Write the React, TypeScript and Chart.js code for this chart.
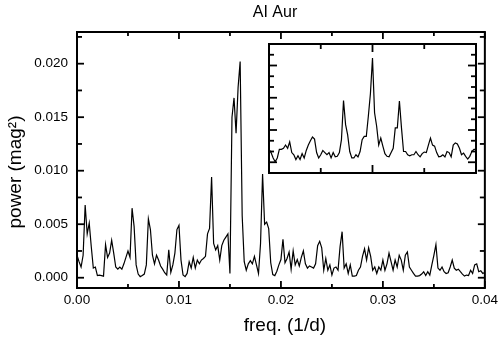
import React, { useEffect, useRef } from "react";
import Chart from "chart.js/auto";

const TITLE = "AI Aur";
const X_LABEL = "freq. (1/d)";
const Y_LABEL = "power (mag²)";

// Main periodogram: frequency grid step (1/d) and power in units of 1e-4 mag^2
const FREQ_STEP = 0.0002;
const POWER_E4 = [
  21, 15, 10, 21, 68, 41, 51, 29, 9, 10,
  2, 2.5, 2, 1.5, 31, 19, 23, 35, 23, 10,
  8, 10, 8, 13, 19, 25, 19, 65, 48, 12,
  3.4, 1, 2, 3.4, 12, 55, 45, 21, 13, 21,
  16.5, 11, 8, 4.7, 2.5, 26, 5, 12, 23, 45,
  49, 16.5, 2.5, 1, 4, 15, 9, 19, 9, 16.5,
  13, 16.5, 18, 20, 41, 46, 94, 32, 26, 30,
  16.5, 30, 35, 38, 41, 4, 150, 168, 135, 178,
  202, 58, 15, 7, 13, 16, 13, 20, 12, 4,
  32, 97, 50, 52, 46, 14, 3, 2, 6, 12,
  17, 36, 14, 18, 24, 8, 25, 12, 17, 11,
  19, 25, 13, 9, 11, 10, 9, 13, 30, 34,
  28, 7, 18, 7, 12, 2.5, 9, 10, 7, 29,
  43, 9, 13, 4, 12, 1.5, 1.5, 2, 7, 10,
  20, 27, 16.5, 28, 20, 7, 10, 4, 10, 7,
  16.5, 7, 13, 23, 15, 7, 16.5, 10, 21, 16.5,
  7, 21, 24, 10, 7, 4, 1.5, 1.5, 2, 3.4,
  5.6, 2, 5.6, 2.5, 12, 21, 31, 9, 7, 10,
  5.6, 4, 4.7, 10, 16.5, 9, 7, 8, 5.6, 3.4,
  1.5, 2.5, 2, 7, 4, 12, 13, 5.6, 6.5, 4,
  5,
];

const X_TICKS = [0, 0.01, 0.02, 0.03, 0.04];
const Y_TICKS = [0, 0.005, 0.01, 0.015, 0.02];

// Inset (spectral window): offset grid step and relative power
const WIN_STEP = 0.04;
const WIN_POWER = [
  2.2, 1.9, 1.4, 1.05, 1.4, 2.2, 2.2, 2.3, 2.6, 2.3,
  2.9, 1.9, 1.7, 1.25, 1.6, 1.25, 1.8, 1.4, 2.1, 2.6,
  3.0, 3.35, 3.15, 1.9, 1.4, 1.7, 2.1, 1.9, 1.7, 1.9,
  1.4, 1.9, 1.5, 1.55, 1.9, 3.1, 6.75, 4.5, 3.55, 2.0,
  1.4, 1.4, 1.7, 1.5, 2.0, 3.1, 3.4, 3.4, 5.3, 7.4,
  10.7, 5.6, 4.35, 2.6, 3.25, 2.5, 1.8, 1.55, 1.5, 1.9,
  2.3, 4.2, 4.2, 6.7, 4.2, 2.0, 2.0, 1.7, 1.6, 1.7,
  1.7, 2.0, 1.7, 1.5, 1.8, 1.95, 1.9, 2.6, 3.25, 2.6,
  2.5, 1.9, 1.5, 1.55, 1.7, 1.5, 2.0, 1.9, 1.5, 2.6,
  2.8, 2.7, 2.3, 1.7, 1.85, 1.55, 1.3, 1.55, 2.0, 2.2,
  2.2,
];

const FONT = '"Liberation Sans", Arial, Helvetica, sans-serif';

const mainPoints = POWER_E4.map((p, i) => ({ x: +(i * FREQ_STEP).toFixed(5), y: p * 1e-4 }));
const winPoints = WIN_POWER.map((p, k) => ({ x: +(-2 + k * WIN_STEP).toFixed(3), y: p }));

function seg(ctx: CanvasRenderingContext2D, x1: number, y1: number, x2: number, y2: number) {
  ctx.beginPath();
  ctx.moveTo(x1, y1);
  ctx.lineTo(x2, y2);
  ctx.stroke();
}

const mainDecor = {
  id: "mainDecor",
  afterDraw(chart: any) {
    const { ctx, chartArea: a, scales } = chart;
    const x = scales.x;
    const y = scales.y;
    ctx.save();
    ctx.strokeStyle = "#000";
    ctx.lineWidth = 1.8;
    for (let i = 0; i <= 8; i++) {
      const px = x.getPixelForValue(i * 0.005);
      const len = i % 2 === 0 ? 7 : 4;
      seg(ctx, px, a.bottom, px, a.bottom - len);
      seg(ctx, px, a.top, px, a.top + len);
    }
    for (let i = 0; i <= 9; i++) {
      const py = y.getPixelForValue(i * 0.0025);
      const len = i % 2 === 0 ? 7 : 5;
      seg(ctx, a.left, py, a.left + len, py);
      seg(ctx, a.right, py, a.right - len, py);
    }
    ctx.lineWidth = 2;
    ctx.strokeRect(a.left, a.top, a.right - a.left, a.bottom - a.top);

    ctx.fillStyle = "#000";
    ctx.textAlign = "center";
    ctx.textBaseline = "alphabetic";
    ctx.font = `16px ${FONT}`;
    ctx.fillText(TITLE, 275, 17);
    ctx.font = `19px ${FONT}`;
    ctx.fillText(X_LABEL, (a.left + a.right) / 2 + 4, 331);
    ctx.translate(21, 172);
    ctx.rotate(-Math.PI / 2);
    ctx.fillText(Y_LABEL, 0, 0);
    ctx.restore();
  },
};

const insetDecor = {
  id: "insetDecor",
  beforeDatasetsDraw(chart: any) {
    const { ctx, chartArea: a } = chart;
    ctx.save();
    ctx.fillStyle = "#fff";
    ctx.fillRect(a.left, a.top, a.right - a.left, a.bottom - a.top);
    ctx.restore();
  },
  afterDraw(chart: any) {
    const { ctx, chartArea: a, scales } = chart;
    const x = scales.x;
    const y = scales.y;
    ctx.save();
    ctx.strokeStyle = "#000";
    ctx.lineWidth = 1.8;
    [-1, 0, 1].forEach((v) => {
      const px = x.getPixelForValue(v);
      const len = v === 0 ? 8 : 5;
      seg(ctx, px, a.bottom, px, a.bottom - len);
      seg(ctx, px, a.top, px, a.top + len);
    });
    for (let k = 1; k <= 11; k++) {
      const py = y.getPixelForValue(k);
      const len = k % 3 === 1 ? 8 : 5;
      seg(ctx, a.left, py, a.left + len, py);
      seg(ctx, a.right, py, a.right - len, py);
    }
    ctx.lineWidth = 2;
    ctx.strokeRect(a.left, a.top, a.right - a.left, a.bottom - a.top);
    ctx.restore();
  },
};

export default function App() {
  const mainRef = useRef<HTMLCanvasElement>(null);
  const insetRef = useRef<HTMLCanvasElement>(null);

  useEffect(() => {
    document.body.style.margin = "0";
    const main = new Chart(mainRef.current as HTMLCanvasElement, {
      type: "line",
      data: {
        datasets: [
          {
            data: mainPoints,
            borderColor: "#000",
            borderWidth: 1.2,
            pointRadius: 0,
            tension: 0,
            fill: false,
          },
        ],
      },
      options: {
        animation: false,
        responsive: false,
        devicePixelRatio: 1,
        layout: { padding: { top: 32, right: 12, left: 0, bottom: 0 } },
        plugins: { legend: { display: false }, tooltip: { enabled: false }, title: { display: false } },
        scales: {
          x: {
            type: "linear",
            min: 0,
            max: 0.04,
            afterFit: (s: any) => {
              s.height = 49;
            },
            afterBuildTicks: (s: any) => {
              s.ticks = X_TICKS.map((v) => ({ value: v }));
            },
            grid: { display: false, drawTicks: false },
            border: { display: false },
            ticks: {
              autoSkip: false,
              maxRotation: 0,
              padding: 4,
              color: "#000",
              font: { family: FONT, size: 13.5 },
              callback: (v: any) => Number(v).toFixed(2),
            },
          },
          y: {
            type: "linear",
            min: -0.00096,
            max: 0.02296,
            afterFit: (s: any) => {
              s.width = 77;
            },
            afterBuildTicks: (s: any) => {
              s.ticks = Y_TICKS.map((v) => ({ value: v }));
            },
            grid: { display: false, drawTicks: false },
            border: { display: false },
            ticks: {
              padding: 9,
              color: "#000",
              font: { family: FONT, size: 13.5 },
              callback: (v: any) => Number(v).toFixed(3),
            },
          },
        },
      },
      plugins: [mainDecor],
    } as any);

    const inset = new Chart(insetRef.current as HTMLCanvasElement, {
      type: "line",
      data: {
        datasets: [
          {
            data: winPoints,
            borderColor: "#000",
            borderWidth: 1.2,
            pointRadius: 0,
            tension: 0,
            fill: false,
          },
        ],
      },
      options: {
        animation: false,
        responsive: false,
        devicePixelRatio: 1,
        layout: { padding: { top: 4, right: 4, left: 4, bottom: 4 } },
        plugins: { legend: { display: false }, tooltip: { enabled: false } },
        scales: {
          x: { type: "linear", min: -2, max: 2, display: false },
          y: { type: "linear", min: 0, max: 12, display: false },
        },
      },
      plugins: [insetDecor],
    } as any);

    return () => {
      main.destroy();
      inset.destroy();
    };
  }, []);

  return (
    <div style={{ position: "relative", width: 502, height: 337, background: "#fff" }}>
      <canvas
        ref={mainRef}
        width={502}
        height={337}
        style={{ position: "absolute", left: 0, top: 0, width: 502, height: 337 }}
      />
      <canvas
        ref={insetRef}
        width={215}
        height={137}
        style={{ position: "absolute", left: 265, top: 40, width: 215, height: 137 }}
      />
    </div>
  );
}
